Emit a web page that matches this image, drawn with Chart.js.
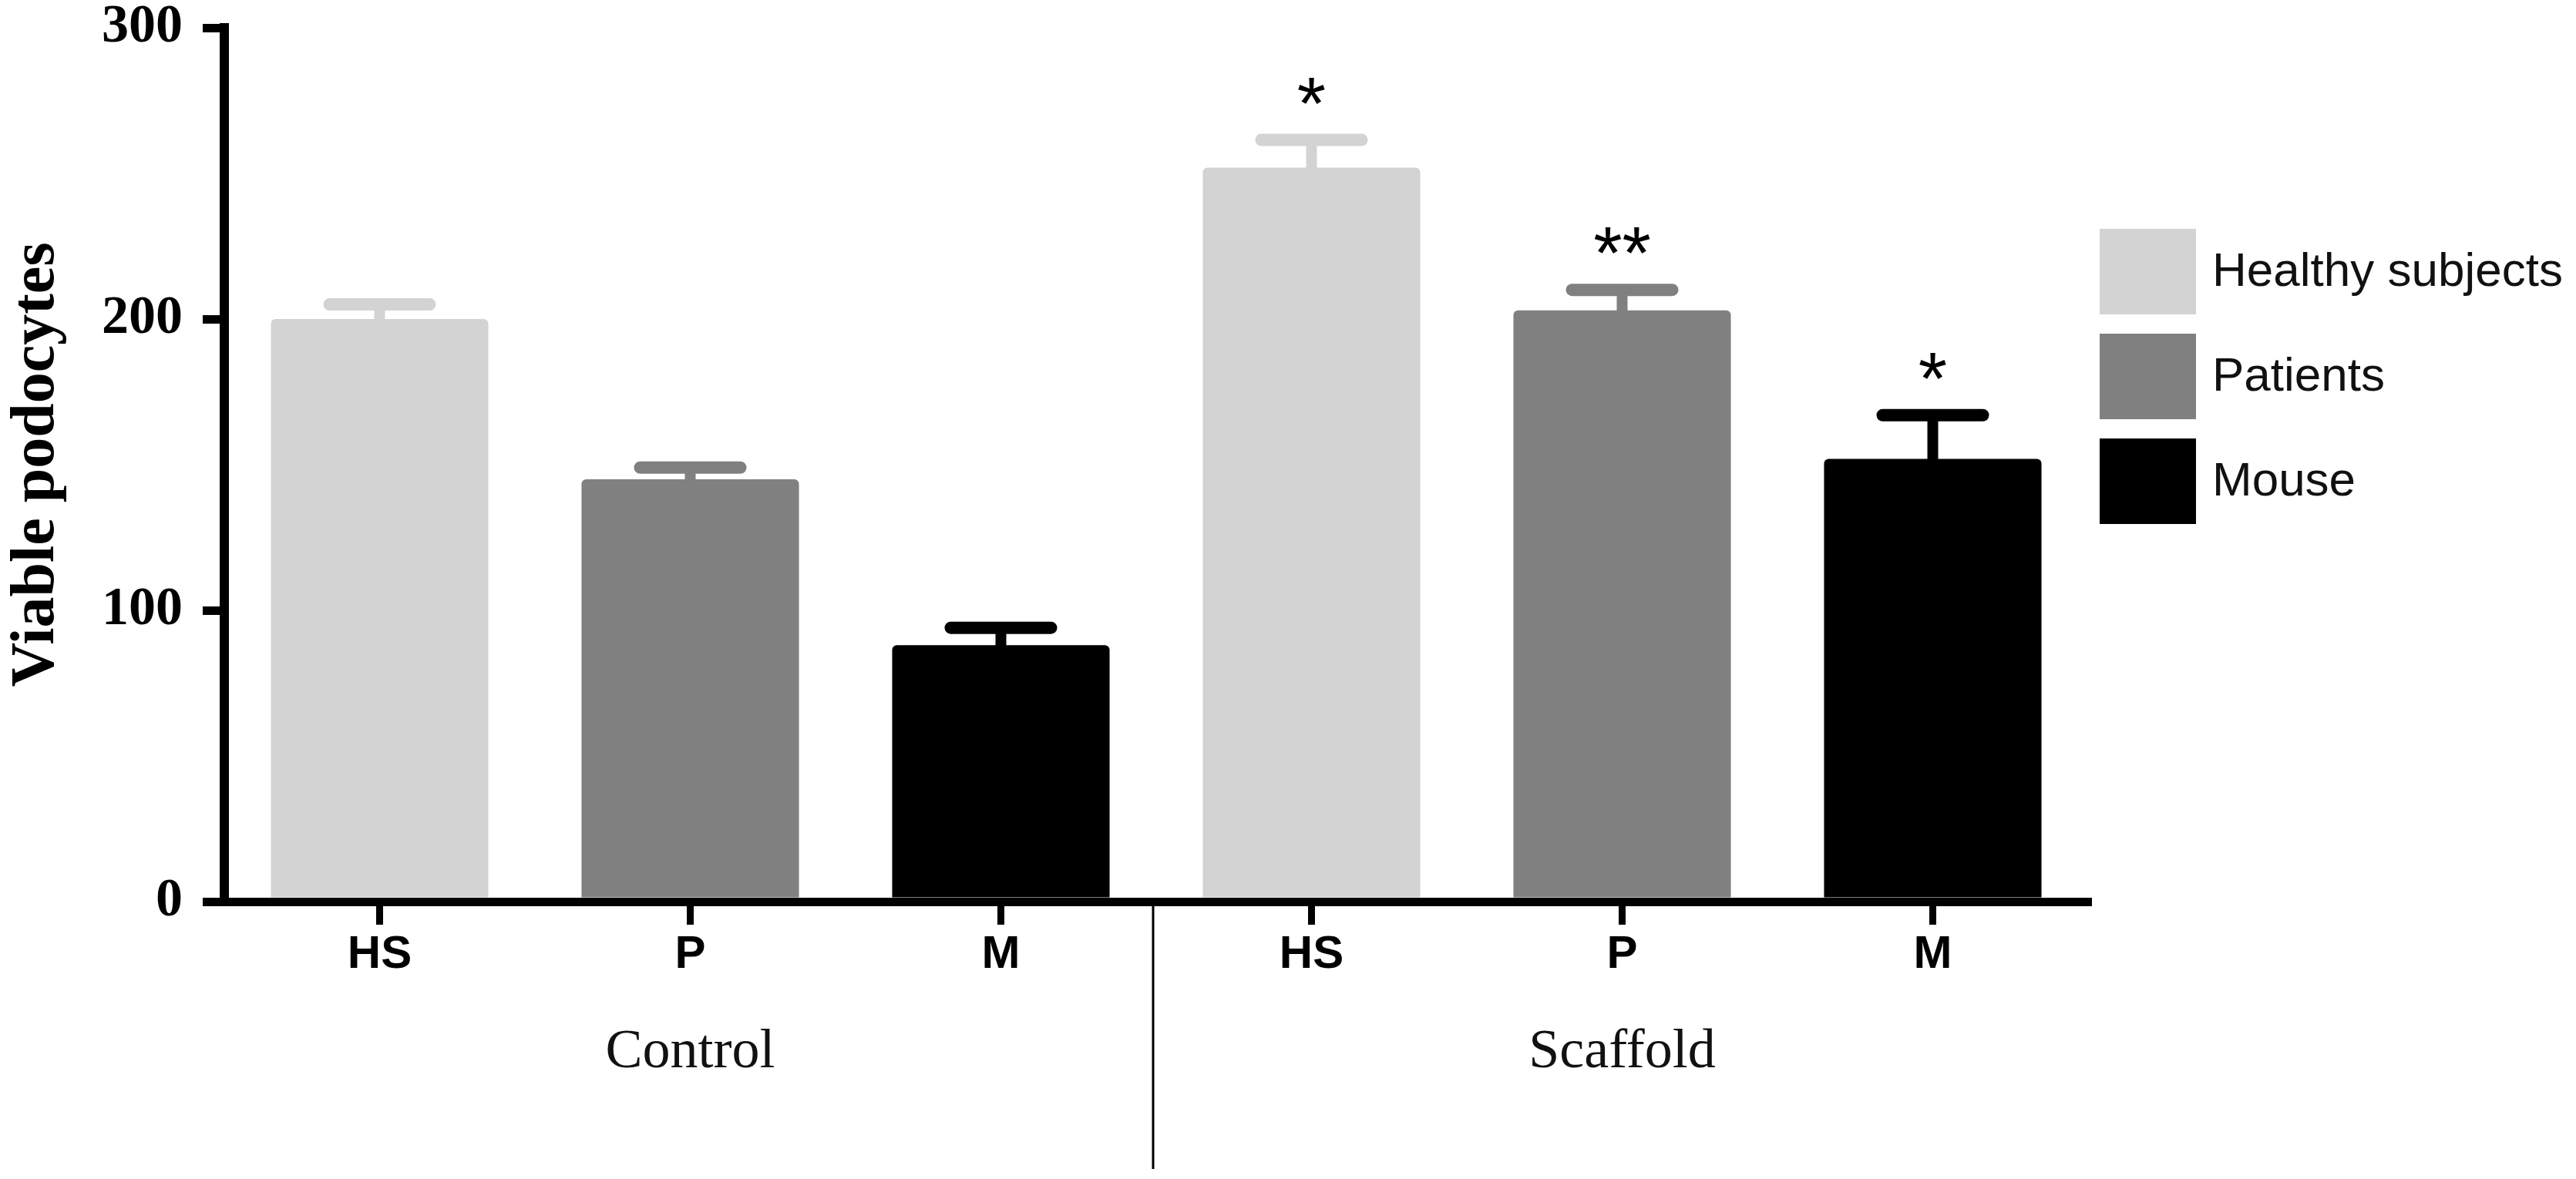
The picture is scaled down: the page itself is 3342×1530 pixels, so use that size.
<!DOCTYPE html>
<html>
<head>
<meta charset="utf-8">
<script src="https://cdn.jsdelivr.net/npm/chart.js@4.4.1/dist/chart.umd.min.js"></script>
<style>
    html, body { margin: 0; padding: 0; background: #fff; }
    #wrap { width: 3342px; height: 1530px; }
</style>
</head>
<body>
<div id="wrap"><canvas id="grafico" width="3342" height="1530"></canvas></div>
<script>
// Dados
const categorias = ['HS', 'P', 'M', 'HS', 'P', 'M'];
const grupos = ['Control', 'Scaffold'];
const tamanhoGrupo = 3;
const seriesNomes = ['Healthy subjects', 'Patients', 'Mouse'];
const seriesCores = ['#d3d3d3', '#808080', '#000000'];
const healthy = [200, null, null, 252, null, null];
const patients = [null, 145, null, null, 203, null];
const mouse = [null, null, 88, null, null, 152];
const erros = [5, 4, 6, 9.5, 7, 15];
const asteriscos = ['', '', '', '*', '**', '*'];
const yMin = 0, yMax = 300, yPasso = 100;

const seriesValores = [healthy, patients, mouse];

// Barras de erro (só para cima) e asteriscos
const errosPlugin = {
    id: 'errosPlugin',
    afterDatasetsDraw(chart) {
        const ctx = chart.ctx;
        const y = chart.scales.y;
        ctx.save();
        chart.data.datasets.forEach((ds, d) => {
            const meta = chart.getDatasetMeta(d);
            ds.data.forEach((v, i) => {
                if (v === null) return;
                const bar = meta.data[i];
                const capY = y.getPixelForValue(v + erros[i]);
                ctx.strokeStyle = ds.backgroundColor;
                ctx.lineCap = 'butt';
                ctx.lineWidth = 14;
                ctx.beginPath();
                ctx.moveTo(bar.x, bar.y + 4);
                ctx.lineTo(bar.x, capY);
                ctx.stroke();
                ctx.lineCap = 'round';
                ctx.lineWidth = 16;
                ctx.beginPath();
                ctx.moveTo(bar.x - 65, capY);
                ctx.lineTo(bar.x + 65, capY);
                ctx.stroke();
                if (asteriscos[i]) {
                    ctx.fillStyle = '#000';
                    ctx.font = '96px "Liberation Sans"';
                    ctx.textAlign = 'center';
                    ctx.textBaseline = 'alphabetic';
                    ctx.fillText(asteriscos[i], bar.x, capY - 15);
                }
            });
        });
        ctx.restore();
    }
};

// Rótulos de grupo, divisória e legenda
const extrasPlugin = {
    id: 'extrasPlugin',
    afterDraw(chart) {
        const ctx = chart.ctx;
        const x = chart.scales.x;
        const area = chart.chartArea;
        ctx.save();

        ctx.fillStyle = '#111';
        ctx.font = '72px "Liberation Serif"';
        ctx.textAlign = 'center';
        ctx.textBaseline = 'alphabetic';
        grupos.forEach((g, k) => {
            const cx = x.getPixelForValue(k * tamanhoGrupo + 1);
            ctx.fillText(g, cx, area.bottom + 215);
        });

        // linha divisória entre os grupos
        for (let k = 1; k < grupos.length; k++) {
            const xa = x.getPixelForValue(k * tamanhoGrupo - 1);
            const xb = x.getPixelForValue(k * tamanhoGrupo);
            const xd = (xa + xb) / 2 - 4;
            ctx.strokeStyle = '#000';
            ctx.lineWidth = 3;
            ctx.beginPath();
            ctx.moveTo(xd, area.bottom + 5);
            ctx.lineTo(xd, area.bottom + 347);
            ctx.stroke();
        }

        // legenda
        const lx = area.right + 15;
        let ly = area.top + 261;
        ctx.font = '62px "Liberation Sans"';
        ctx.textAlign = 'left';
        ctx.textBaseline = 'middle';
        seriesNomes.forEach((nome, s) => {
            ctx.fillStyle = seriesCores[s];
            ctx.fillRect(lx, ly, 125, 111);
            ctx.fillStyle = '#111';
            ctx.fillText(nome, lx + 146, ly + 57);
            ly += 136;
        });
        ctx.restore();
    }
};

const ctx = document.getElementById('grafico').getContext('2d');
const grafico = new Chart(ctx, {
    type: 'bar',
    data: {
        labels: categorias,
        datasets: seriesNomes.map((nome, s) => ({
            label: nome,
            data: seriesValores[s],
            backgroundColor: seriesCores[s],
            borderWidth: 0,
            borderRadius: 6,
            grouped: false,
            barPercentage: 0.7,
            categoryPercentage: 1.0
        }))
    },
    options: {
        responsive: false,
        animation: false,
        devicePixelRatio: 1,
        layout: {
            padding: { top: 36, right: 633, bottom: 0, left: 0 }
        },
        plugins: {
            legend: { display: false },
            tooltip: { enabled: false }
        },
        scales: {
            x: {
                offset: true,
                grid: {
                    offset: false,
                    drawOnChartArea: false,
                    drawTicks: true,
                    tickLength: 30,
                    lineWidth: 9,
                    color: '#000'
                },
                border: { display: true, width: 11, color: '#000' },
                ticks: {
                    color: '#000',
                    padding: 9,
                    font: { family: 'Liberation Sans', size: 60, weight: 'bold', lineHeight: 1 }
                },
                afterFit(scale) { scale.height = 360; }
            },
            y: {
                min: yMin,
                max: yMax,
                grid: {
                    drawOnChartArea: false,
                    drawTicks: true,
                    tickLength: 28,
                    lineWidth: 11,
                    color: '#000'
                },
                border: { display: true, width: 12, color: '#000' },
                ticks: {
                    stepSize: yPasso,
                    color: '#000',
                    padding: 26,
                    font: { family: 'Liberation Serif', size: 70, weight: 'bold', lineHeight: 1 }
                },
                title: {
                    display: true,
                    text: 'Viable podocytes',
                    color: '#000',
                    padding: { top: 0, bottom: 0 },
                    font: { family: 'Liberation Serif', size: 80, weight: 'bold' }
                },
                afterFit(scale) {
                    scale.width = 291;
                    scale.paddingTop = 0;
                    scale.paddingBottom = 0;
                }
            }
        }
    },
    plugins: [errosPlugin, extrasPlugin]
});
</script>
</body>
</html>
